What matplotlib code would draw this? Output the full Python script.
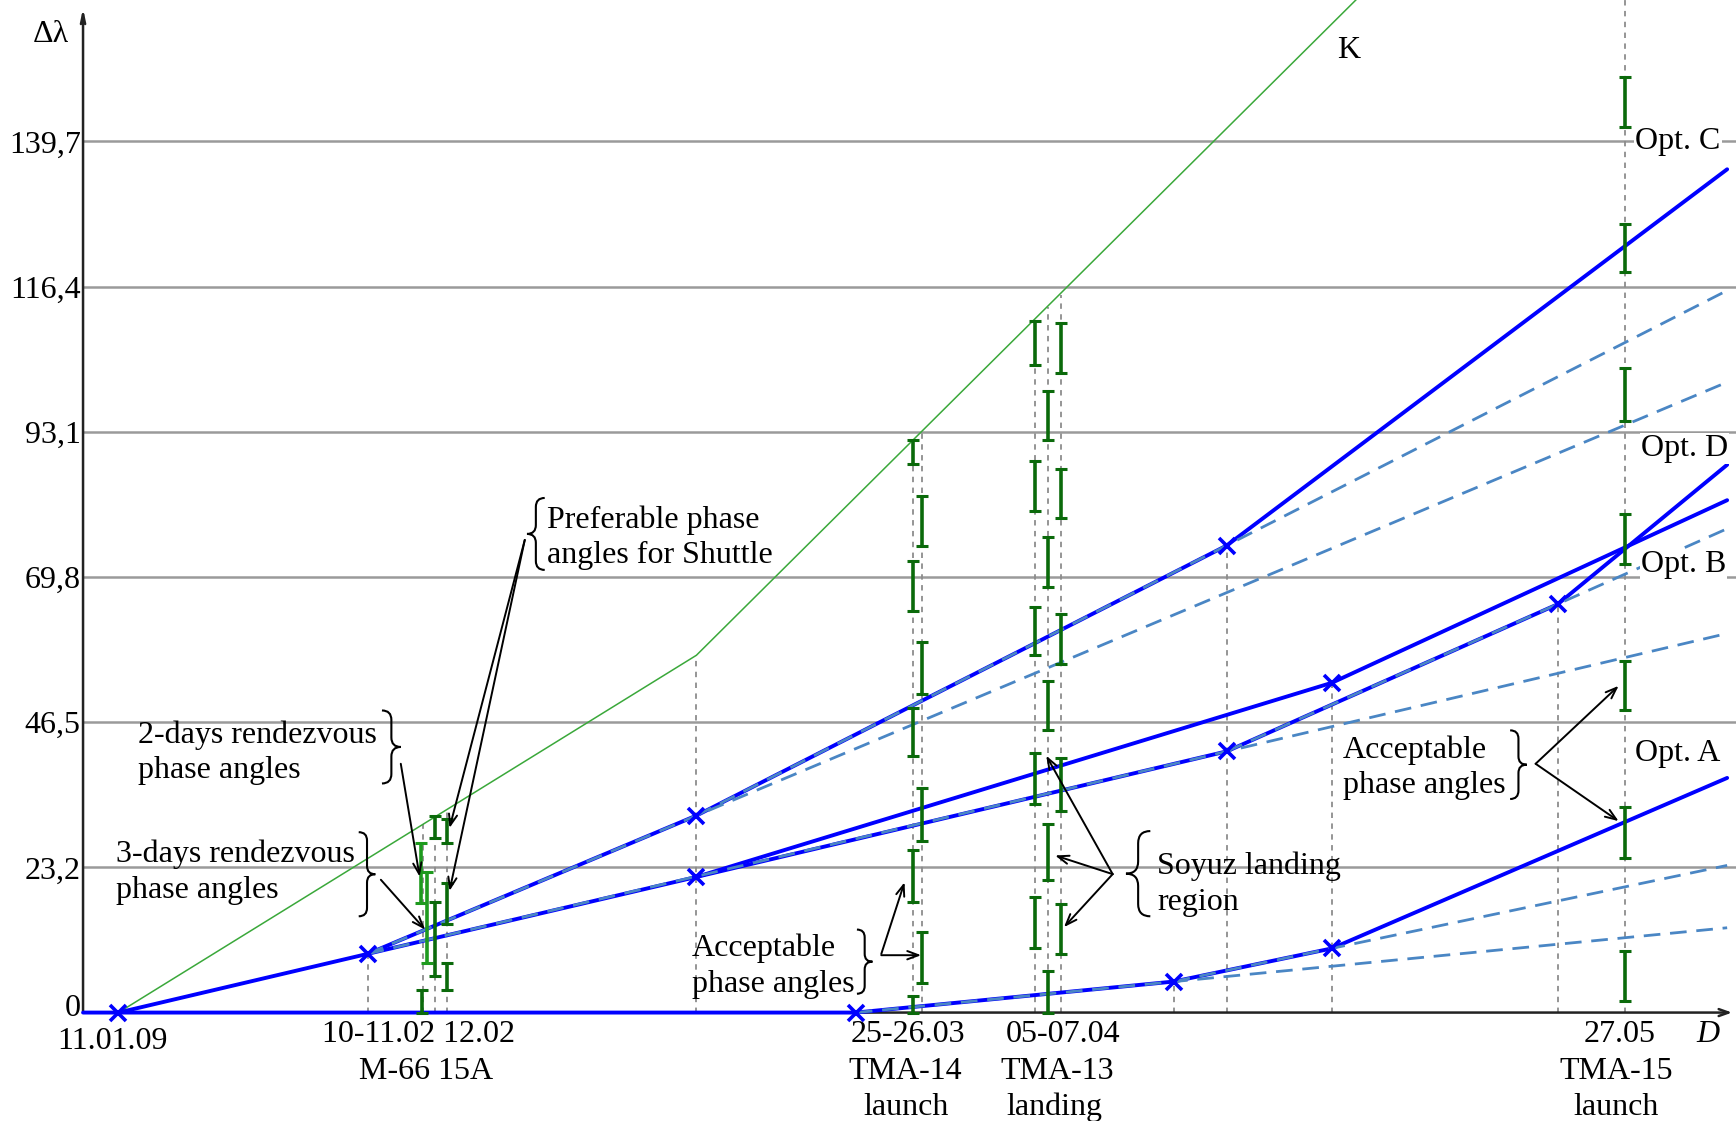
import numpy as np
import matplotlib
matplotlib.use("Agg")
import matplotlib.pyplot as plt
from matplotlib.path import Path
from matplotlib.patches import PathPatch

plt.rcParams['font.family'] = ['Liberation Serif', 'DejaVu Serif']

# ---- data (x: schematic date position D, y: phase angle) ----
y_ticks = [0, 23.28, 46.57, 69.85, 93.13, 116.42, 139.7]
y_labels = ['0', '23,2', '46,5', '69,8', '93,1', '116,4', '139,7']

# K curve (upper bound)
k_x = [107, 629, 1240]
k_y = [0, 57.3, 165.1]

# solid strategy lines
trunk_x = [107, 332, 629, 1108]
trunk_y = [0, 9.41, 21.75, 41.89]
optc_x = [332, 629, 1108, 1560]
optc_y = [9.41, 31.59, 74.90, 135.24]
optb_x = [629, 1203, 1560]
optb_y = [21.75, 52.89, 82.17]
optd_x = [1108, 1407, 1560]
optd_y = [41.89, 65.49, 87.85]
opta_x = [75, 773, 1060, 1203, 1560]
opta_y = [0, 0, 4.97, 10.29, 37.63]

# kink markers
mark_x = [107, 332, 629, 629, 773, 1060, 1108, 1108, 1203, 1203, 1407]
mark_y = [0, 9.41, 31.59, 21.75, 0, 4.97, 74.90, 41.89, 52.89, 10.29, 65.49]

# dashed continuations (start x, start y, end x, end y)
dash_x0 = [332, 629, 332, 1108, 773, 1060]
dash_y0 = [9.41, 31.59, 9.41, 41.89, 0, 4.97]
dash_x1 = [1560, 1560, 1560, 1560, 1560, 1560]
dash_y1 = [101.1, 115.8, 60.8, 77.6, 13.6, 23.6]

# vertical dotted guides (x, top)
vline_x = [332, 382, 393, 404, 629, 825, 833, 935, 947, 958, 1060, 1108, 1203, 1407, 1468]
vline_top = [9.41, 30.2, 31.4, 32.6, 57.3, 91.7, 93.1, 111.0, 113.1, 115.0, 4.97, 74.9, 52.89, 65.49, 165]

# phase-angle windows (x, low, high)
bar_x = [380, 381, 386, 393, 393, 404, 404, 404,
         825, 825, 825, 825, 825,
         833, 833, 833, 833,
         935, 935, 935, 935, 935,
         947, 947, 947, 947, 947,
         958, 958, 958, 958, 958,
         1468, 1468, 1468, 1468, 1468, 1468, 1468]
bar_lo = [17.6, 0, 8.0, 28.0, 5.9, 27.2, 14.2, 3.6,
          87.9, 64.4, 41.2, 17.8, 0,
          74.9, 51.1, 27.5, 4.8,
          103.8, 80.4, 57.3, 33.4, 10.3,
          91.8, 68.3, 45.3, 21.3, 0,
          102.6, 79.3, 55.9, 32.3, 9.4,
          142.0, 118.7, 94.9, 71.9, 48.5, 24.8, 1.8]
bar_hi = [27.2, 3.6, 22.5, 31.6, 17.8, 31.1, 20.8, 8.0,
          91.8, 72.4, 48.8, 26.1, 2.7,
          82.9, 59.5, 36.0, 13.0,
          110.9, 88.4, 65.1, 41.7, 18.6,
          99.7, 76.3, 53.2, 30.2, 6.6,
          110.6, 87.1, 63.9, 40.8, 17.4,
          150.0, 126.5, 103.3, 79.9, 56.4, 33.0, 9.8]
bar_light = [0, 2]  # brighter green windows

fig = plt.figure(figsize=(17.36, 11.21), dpi=100)
ax = fig.add_axes([0, 0, 1, 1])
ax.set_xlim(0, 1568)
ax.set_ylim(-17.39, 162.39)
ax.axis('off')

blue = '#0000ff'
dblue = '#4a86c4'
dgreen = '#0b6a0b'
fs = 23
dy = -0.55  # text baseline nudge

# grid
for t in y_ticks[1:]:
    ax.plot([75, 1568], [t, t], color='#9a9a9a', lw=1.8, zorder=1)
for t, lab in zip(y_ticks, y_labels):
    yy = t + dy if t > 0 else 0.7
    ax.text(73, yy, lab, ha='right', va='center', fontsize=fs)

# axes with arrows
ax.annotate('', xy=(1567, 0), xytext=(74, 0),
            arrowprops=dict(arrowstyle='->,head_length=0.7,head_width=0.25', lw=1.8, color='#222222'), zorder=2)
ax.annotate('', xy=(75, 161.5), xytext=(75, -0.2),
            arrowprops=dict(arrowstyle='->,head_length=0.7,head_width=0.15', lw=1.8, color='#222222'), zorder=2)

# vertical dotted guides
for x, top in zip(vline_x, vline_top):
    ax.plot([x, x], [0, top], color='#8c8c8c', lw=1.3, ls=(0, (3, 3)), zorder=1)

# K curve
ax.plot(k_x, k_y, color='#3aa83a', lw=1.1, zorder=3)

# solid lines
for xs, ys in [(trunk_x, trunk_y), (optc_x, optc_y), (optb_x, optb_y),
               (optd_x, optd_y), (opta_x, opta_y)]:
    ax.plot(xs, ys, color=blue, lw=2.8, zorder=4, solid_capstyle='round')

# dashed continuations
for x0, y0, x1, y1 in zip(dash_x0, dash_y0, dash_x1, dash_y1):
    ax.plot([x0, x1], [y0, y1], color=dblue, lw=2.0, ls=(0, (6, 3.5)), zorder=5)

ax.plot(mark_x, mark_y, 'x', color=blue, ms=11, mew=2.6, zorder=6)

# phase-angle windows
bar_x = np.array(bar_x)
bar_lo = np.array(bar_lo)
bar_hi = np.array(bar_hi)
cols = [('#1e9a1e' if i in bar_light else dgreen) for i in range(len(bar_x))]
for x, lo, hi, c in zip(bar_x, bar_lo, bar_hi, cols):
    ax.errorbar([x], [(lo + hi) / 2], yerr=[(hi - lo) / 2], fmt='none',
                ecolor=c, elinewidth=2.6, capsize=4, capthick=2.2, zorder=7)


def brace(x_base, x_tip, y_lo, y_hi):
    ym = (y_lo + y_hi) / 2
    xm = (x_base + x_tip) / 2
    c = abs(x_tip - x_base) / 2 / 5.6
    verts = [(x_base, y_hi), (xm, y_hi), (xm, y_hi - c),
             (xm, ym + c), (xm, ym), (x_tip, ym),
             (xm, ym), (xm, ym - c),
             (xm, y_lo + c), (xm, y_lo), (x_base, y_lo)]
    codes = [Path.MOVETO, Path.CURVE3, Path.CURVE3, Path.LINETO,
             Path.CURVE3, Path.CURVE3, Path.CURVE3, Path.CURVE3,
             Path.LINETO, Path.CURVE3, Path.CURVE3]
    ax.add_patch(PathPatch(Path(verts, codes), fill=False, lw=1.5, color='black', zorder=8))


brace(492, 476, 70.99, 82.53)
brace(345, 362, 36.74, 48.45)
brace(324, 339, 15.44, 28.93)
brace(774, 788, 3.02, 13.31)
brace(1039, 1017, 15.44, 29.11)
brace(1364, 1379, 34.25, 45.26)

arrows = [((474, 75.8), (406, 29.6)), ((474, 75.8), (406, 19.5)),
          ((362, 39.9), (379, 21.8)), ((344, 21.3), (384, 13.3)),
          ((796, 9.4), (817, 20.9)), ((796, 9.2), (832, 9.2)),
          ((1005, 22.2), (945, 41.2)), ((1005, 22.2), (953, 25.2)),
          ((1005, 22.2), (961, 13.7)),
          ((1387, 39.9), (1462, 52.4)), ((1387, 39.9), (1462, 30.7))]
for start, end in arrows:
    ax.annotate('', xy=end, xytext=start,
                arrowprops=dict(arrowstyle='->,head_length=0.8,head_width=0.3', lw=1.4,
                                color='black', shrinkA=0, shrinkB=0), zorder=9)

ls = 1.3
ax.text(494, 76.7 + dy, 'Preferable phase\nangles for Shuttle', ha='left', va='center', fontsize=fs, linespacing=ls)
ax.text(125, 42.2 + dy, '2-days rendezvous\nphase angles', ha='left', va='center', fontsize=fs, linespacing=ls)
ax.text(105, 23.1 + dy, '3-days rendezvous\nphase angles', ha='left', va='center', fontsize=fs, linespacing=ls)
ax.text(625, 8.0 + dy, 'Acceptable\nphase angles', ha='left', va='center', fontsize=fs, linespacing=ls)
ax.text(1045, 21.1 + dy, 'Soyuz landing\nregion', ha='left', va='center', fontsize=fs, linespacing=ls)
ax.text(1213, 39.8 + dy, 'Acceptable\nphase angles', ha='left', va='center', fontsize=fs, linespacing=ls)

box = dict(facecolor='white', edgecolor='none', pad=1)
ax.text(1218, 154.8 + dy, 'K', ha='center', va='center', fontsize=fs)
ax.text(1477, 140.2 + dy, 'Opt. C', ha='left', va='center', fontsize=fs, bbox=box, zorder=10)
ax.text(1482, 91.0 + dy, 'Opt. D', ha='left', va='center', fontsize=fs, bbox=box, zorder=10)
ax.text(1482, 72.4 + dy, 'Opt. B', ha='left', va='center', fontsize=fs, bbox=box, zorder=10)
ax.text(1477, 42.1 + dy, 'Opt. A', ha='left', va='center', fontsize=fs, bbox=box, zorder=10)
ax.text(46, 157.4 + dy, 'Δλ', ha='center', va='center', fontsize=fs)

# date labels
r1, r2, r3 = -3.0 + dy, -8.9 + dy, -14.7 + dy
ax.text(102, -4.7, '11.01.09', ha='center', va='center', fontsize=fs)
ax.text(378, r1, '10-11.02 12.02', ha='center', va='center', fontsize=fs)
ax.text(385, r2, 'M-66 15A', ha='center', va='center', fontsize=fs)
ax.text(820, r1, '25-26.03', ha='center', va='center', fontsize=fs)
ax.text(818, r2, 'TMA-14', ha='center', va='center', fontsize=fs)
ax.text(818, r3, 'launch', ha='center', va='center', fontsize=fs)
ax.text(960, r1, '05-07.04', ha='center', va='center', fontsize=fs)
ax.text(955, r2, 'TMA-13', ha='center', va='center', fontsize=fs)
ax.text(952, r3, 'landing', ha='center', va='center', fontsize=fs)
ax.text(1463, r1, '27.05', ha='center', va='center', fontsize=fs)
ax.text(1460, r2, 'TMA-15', ha='center', va='center', fontsize=fs)
ax.text(1460, r3, 'launch', ha='center', va='center', fontsize=fs)
ax.text(1543, r1, 'D', ha='center', va='center', fontsize=fs, style='italic')

fig.savefig('out.png', dpi=100)
